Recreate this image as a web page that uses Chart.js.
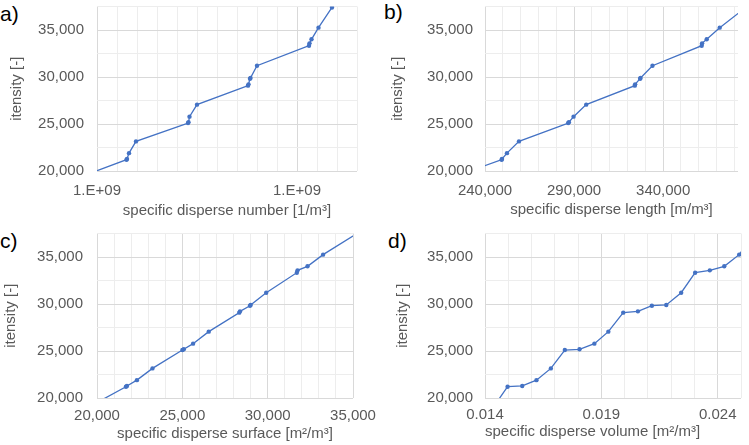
<!DOCTYPE html>
<html>
<head>
<meta charset="utf-8">
<script src="https://cdn.jsdelivr.net/npm/chart.js@4.4.1/dist/chart.umd.min.js"></script>
<style>
html,body{margin:0;padding:0;background:#fff;overflow:hidden;width:749px;height:445px;position:relative;font-family:'Liberation Sans',Arial,sans-serif}
canvas{position:absolute}
.lbl{position:absolute;font-size:21px;line-height:21px;color:#000;font-family:'Liberation Sans',Arial,sans-serif}
</style>
</head>
<body>
<div class="lbl" style="left:0px;top:2.5px">a)</div>
<div class="lbl" style="left:384px;top:0.5px">b)</div>
<div class="lbl" style="left:0px;top:229.5px">c)</div>
<div class="lbl" style="left:388px;top:229.5px">d)</div>
<canvas id="ca" width="375" height="242" style="left:0px;top:-20px"></canvas>
<canvas id="cb" width="374" height="242" style="left:375px;top:-20px"></canvas>
<canvas id="cc" width="400" height="243" style="left:0px;top:202px"></canvas>
<canvas id="cd" width="374" height="243" style="left:375px;top:202px"></canvas>
<script>
// ---- data (shared y values, one x array per panel) ----
const intensity   = [19000, 21200, 21280, 21900, 23150, 25100, 25180, 25780, 27060, 29080, 29220, 29820, 29900, 31200, 33330, 33580, 34010, 35250, 37400];
const dispNumber  = [0.948e9, 1.059e9, 1.060e9, 1.064e9, 1.078e9, 1.182e9, 1.183e9, 1.185e9, 1.200e9, 1.302e9, 1.303e9, 1.306e9, 1.307e9, 1.320e9, 1.424e9, 1.425e9, 1.429e9, 1.443e9, 1.470e9];
const dispLength  = [216800, 249350, 249530, 252330, 259060, 286700, 287090, 289700, 296800, 324080, 324260, 327060, 327270, 334000, 361640, 361830, 364440, 371730, 386400];
const dispSurface = [19480, 21695, 21754, 22338, 23250, 25005, 25085, 25630, 26547, 28336, 28377, 28962, 29003, 29915, 31709, 31750, 32335, 33247, 35152];
const dispVolume  = [0.01435, 0.01497, 0.01560, 0.01621, 0.01683, 0.01743, 0.01806, 0.01870, 0.01930, 0.01994, 0.02057, 0.02117, 0.02179, 0.02243, 0.02303, 0.02366, 0.02428, 0.02492, 0.02554];

// ---- tick values and labels ----
const yTicks      = [20000, 22500, 25000, 27500, 30000, 32500, 35000, 37500];
const yTickLabels = ['20,000', '', '25,000', '', '30,000', '', '35,000', ''];

const aXTicks  = [1.00e9, 1.04e9, 1.08e9, 1.12e9, 1.16e9, 1.20e9, 1.24e9, 1.28e9, 1.32e9, 1.36e9, 1.40e9, 1.44e9, 1.48e9, 1.52e9];
const aXLabels = ['1.E+09', '', '', '', '', '', '', '', '', '', '1.E+09', '', '', ''];
const bXTicks  = [240000, 250000, 260000, 270000, 280000, 290000, 300000, 310000, 320000, 330000, 340000, 350000, 360000, 370000, 380000];
const bXLabels = ['240,000', '', '', '', '', '290,000', '', '', '', '', '340,000', '', '', '', ''];
const cXTicks  = [20000, 21000, 22000, 23000, 24000, 25000, 26000, 27000, 28000, 29000, 30000, 31000, 32000, 33000, 34000, 35000];
const cXLabels = ['20,000', '', '', '', '', '25,000', '', '', '', '', '30,000', '', '', '', '', '35,000'];
const dXTicks  = [0.014, 0.015, 0.016, 0.017, 0.018, 0.019, 0.020, 0.021, 0.022, 0.023, 0.024, 0.025];
const dXLabels = ['0.014', '', '', '', '', '0.019', '', '', '', '', '0.024', ''];

const panels = [
  {id: 'ca', x: dispNumber,  xTicks: aXTicks, xLabels: aXLabels, xMin: 1.00e9, xMax: 1.52e9,
   title: 'specific disperse number [1/m³]', yW: 97, xH: 51, pad: {top: 26.5, right: 18, left: 0, bottom: 0},
   xTickPad: 11, xTitlePadB: 2.5, yTitlePadT: 7.7, yTickPad: 13, xAlign: 'center'},
  {id: 'cb', x: dispLength,  xTicks: bXTicks, xLabels: bXLabels, xMin: 240000, xMax: 382000,
   title: 'specific disperse length [m/m³]', yW: 110, xH: 51, pad: {top: 26.5, right: 11, left: 0, bottom: 0},
   xTickPad: 11, xTitlePadB: 2.7, yTitlePadT: 14, yTickPad: 12, xAlign: 'center'},
  {id: 'cc', x: dispSurface, xTicks: cXTicks, xLabels: cXLabels, xMin: 20000, xMax: 35000,
   title: 'specific disperse surface [m²/m³]', yW: 97, xH: 47, pad: {top: 31.5, right: 47, left: 0, bottom: 0},
   xTickPad: 9, xTitlePadB: 2.3, yTitlePadT: 2, yTickPad: 14, xAlign: 'center'},
  {id: 'cd', x: dispVolume,  xTicks: dXTicks, xLabels: dXLabels, xMin: 0.014, xMax: 0.025,
   title: 'specific disperse volume [m²/m³]', yW: 110, xH: 47, pad: {top: 31.5, right: 3, left: 0, bottom: 0},
   xTickPad: 8, xTitlePadB: 4.5, yTitlePadT: 18.5, yTickPad: 12, xAlign: 'start'}
];

const FONT = "'Liberation Sans', Arial, sans-serif";
const GRAY = '#595959';
const BLUE = '#4472C4';

panels.forEach(p => {
  const pts = p.x.map((v, i) => ({x: v, y: intensity[i]}));
  new Chart(document.getElementById(p.id), {
    type: 'scatter',
    data: {datasets: [{
      data: pts, showLine: true, borderColor: BLUE, backgroundColor: BLUE,
      borderWidth: 1.3, pointRadius: 2.2, pointHoverRadius: 2.2, pointBorderWidth: 0, tension: 0
    }]},
    options: {
      responsive: false, animation: false, devicePixelRatio: 1,
      layout: {padding: p.pad},
      plugins: {legend: {display: false}, tooltip: {enabled: false}},
      scales: {
        x: {
          type: 'linear', min: p.xMin, max: p.xMax,
          afterBuildTicks: s => { s.ticks = p.xTicks.map(v => ({value: v})); },
          afterFit: s => { s.height = p.xH; },
          grid: {drawTicks: false, color: c => (p.xLabels[c.index] ? '#d9d9d9' : '#ededed'), lineWidth: 1},
          border: {display: false},
          ticks: {maxRotation: 0, minRotation: 0, autoSkip: false, padding: p.xTickPad, color: GRAY,
                  font: {family: FONT, size: 15}, callback: (v, i) => p.xLabels[i]},
          title: {display: true, text: p.title, color: GRAY, align: p.xAlign,
                  font: {family: FONT, size: 15}, padding: {top: 0, bottom: p.xTitlePadB}}
        },
        y: {
          type: 'linear', min: 20000, max: 37500,
          afterBuildTicks: s => { s.ticks = yTicks.map(v => ({value: v})); },
          afterFit: s => { s.width = p.yW; },
          grid: {drawTicks: false, color: c => (yTickLabels[c.index] ? '#d9d9d9' : '#ededed'), lineWidth: 1},
          border: {display: false},
          ticks: {autoSkip: false, padding: p.yTickPad, color: GRAY,
                  font: {family: FONT, size: 15}, callback: (v, i) => yTickLabels[i]},
          title: {display: true, text: 'itensity [-]', color: GRAY,
                  font: {family: FONT, size: 15}, padding: {top: p.yTitlePadT, bottom: 0}}
        }
      }
    }
  });
});
</script>
</body>
</html>
